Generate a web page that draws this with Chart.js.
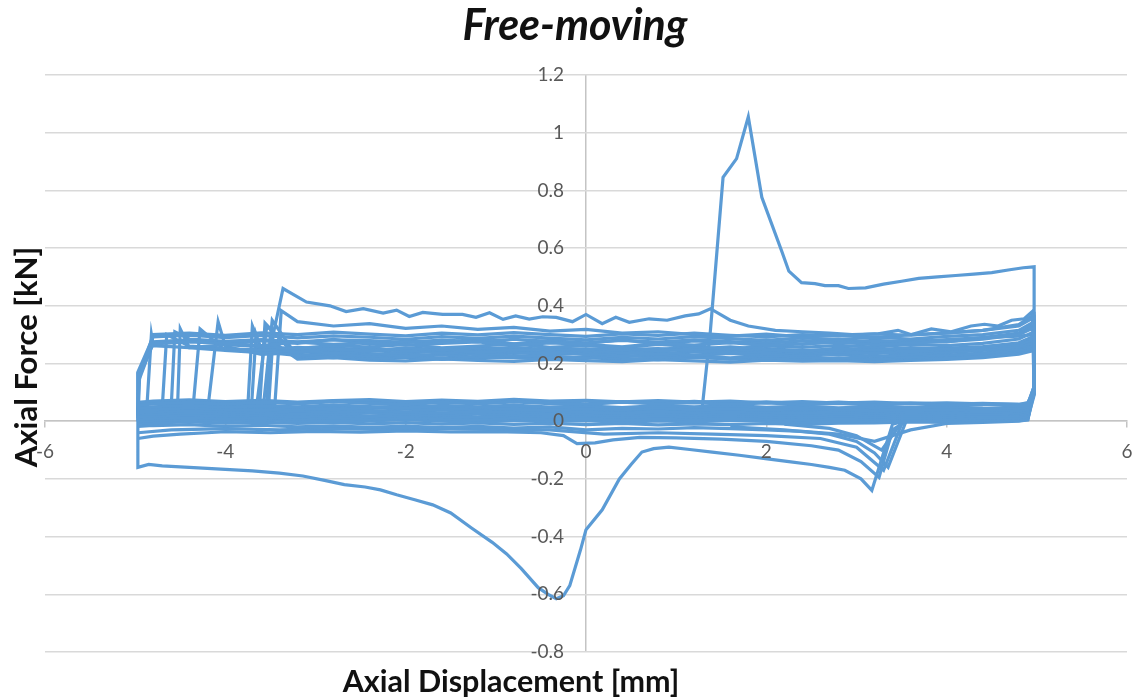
<!DOCTYPE html>
<html>
<head>
<meta charset="utf-8">
<script src="https://cdn.jsdelivr.net/npm/chart.js@4.4.1/dist/chart.umd.min.js"></script>
<style>
  html, body { margin: 0; padding: 0; background: #fff; }
  #wrap { width: 1137px; height: 699px; position: relative; }
</style>
</head>
<body>
<div id="wrap"><canvas id="graficaFriccion" width="1137" height="699"></canvas></div>
<script>
// Textos
const chartTitle = 'Free-moving';
const xTitle = 'Axial Displacement [mm]';
const yTitle = 'Axial Force [kN]';

// Ticks
const xTickValues = [-6, -4, -2, 0, 2, 4, 6];
const yTickValues = [-0.8, -0.6, -0.4, -0.2, 0, 0.2, 0.4, 0.6, 0.8, 1, 1.2];

// Estaciones de desplazamiento para las bandas de ciclos
const stations = [-4.8, -4.4, -4.0, -3.6, -3.2, -2.8, -2.4, -2.0, -1.6, -1.2, -0.8, -0.4, 0, 0.4, 0.8, 1.2, 1.6, 2.0, 2.4, 2.8, 3.2, 3.6, 4.0, 4.4, 4.8];

// Rama superior (ida) de cada ciclo, kN
const upperY = [
  [0.292,0.298,0.29,0.297,0.289,0.296,0.291,0.284,0.293,0.287,0.295,0.288,0.282,0.291,0.285,0.293,0.286,0.28,0.289,0.283,0.291,0.285,0.294,0.3,0.315],
  [0.268,0.275,0.27,0.262,0.274,0.266,0.272,0.264,0.27,0.275,0.263,0.271,0.266,0.258,0.27,0.264,0.272,0.262,0.268,0.274,0.265,0.271,0.276,0.284,0.3],
  [0.262,0.255,0.265,0.258,0.252,0.263,0.257,0.266,0.254,0.26,0.268,0.256,0.262,0.255,0.266,0.258,0.25,0.261,0.256,0.263,0.257,0.266,0.262,0.27,0.285],
  [null,0.26,0.252,0.246,0.256,0.25,0.243,0.254,0.248,0.257,0.245,0.252,0.247,0.256,0.244,0.25,0.258,0.248,0.242,0.253,0.247,0.255,0.25,0.258,0.272],
  [null,0.255,0.245,0.25,0.24,0.248,0.252,0.243,0.25,0.238,0.246,0.253,0.241,0.248,0.252,0.24,0.245,0.25,0.239,0.246,0.252,0.241,0.248,0.255,0.265],
  [null,null,0.245,0.238,0.245,0.236,0.242,0.248,0.235,0.243,0.239,0.234,0.244,0.238,0.232,0.242,0.236,0.243,0.235,0.24,0.234,0.244,0.24,0.248,0.258],
  [null,null,0.26,0.232,0.238,0.244,0.232,0.238,0.243,0.23,0.237,0.242,0.231,0.236,0.24,0.229,0.236,0.232,0.238,0.23,0.24,0.233,0.238,0.245,0.255],
  [null,null,null,0.24,0.228,0.235,0.226,0.232,0.229,0.236,0.225,0.231,0.234,0.224,0.232,0.228,0.235,0.226,0.23,0.233,0.225,0.231,0.228,0.236,0.25],
  [null,null,null,0.25,0.226,0.22,0.228,0.223,0.23,0.221,0.227,0.224,0.219,0.228,0.222,0.226,0.22,0.227,0.223,0.218,0.226,0.222,0.228,0.234,0.245],
  [null,null,null,null,0.222,0.228,0.218,0.224,0.217,0.223,0.219,0.215,0.222,0.218,0.213,0.221,0.216,0.22,0.214,0.219,0.215,0.22,0.217,0.226,0.238],
  [null,null,null,null,0.215,0.22,0.212,0.209,0.216,0.211,0.207,0.214,0.21,0.206,0.213,0.209,0.205,0.212,0.208,0.21,0.206,0.211,0.214,0.22,0.232],
  [null,null,null,null,0.345,0.33,0.338,0.322,0.33,0.318,0.325,0.312,0.318,0.305,0.31,0.3,0.295,0.302,0.292,0.298,0.29,0.3,0.305,0.315,0.33],
  [0.3,0.305,0.298,0.306,0.3,0.309,0.302,0.296,0.305,0.299,0.307,0.3,0.294,0.303,0.297,0.305,0.298,0.292,0.3,0.295,0.303,0.298,0.306,0.315,0.335],
  [null,0.285,0.277,0.283,0.275,0.282,0.279,0.273,0.281,0.276,0.284,0.277,0.272,0.28,0.274,0.282,0.276,0.27,0.279,0.273,0.28,0.275,0.283,0.29,0.295],
  [null,null,null,0.25,0.248,0.254,0.246,0.252,0.245,0.25,0.256,0.247,0.251,0.244,0.25,0.255,0.246,0.252,0.245,0.249,0.243,0.25,0.253,0.258,0.268],
  [null,null,null,0.238,0.22,0.226,0.217,0.222,0.214,0.22,0.225,0.216,0.221,0.213,0.219,0.224,0.215,0.22,0.212,0.218,0.214,0.219,0.222,0.23,0.24],
  [0.275,0.282,0.268,0.279,0.27,0.284,0.266,0.278,0.272,0.285,0.268,0.28,0.27,0.283,0.267,0.278,0.271,0.282,0.266,0.279,0.27,0.283,0.275,0.29,0.305]
];

// Rama inferior (vuelta) de cada ciclo, kN
const lowerY = [
  [0.06,0.065,0.058,0.066,0.06,0.068,0.062,0.057,0.065,0.06,0.067,0.061,0.058,0.066,0.06,0.064,0.058,0.063,0.057,0.062,0.056,0.061,0.055,0.058,0.052],
  [0.05,0.055,0.048,0.054,0.05,0.057,0.051,0.046,0.055,0.05,0.056,0.049,0.053,0.047,0.054,0.05,0.055,0.048,0.052,0.046,0.051,0.047,0.05,0.045,0.044],
  [0.04,0.046,0.041,0.037,0.045,0.04,0.047,0.042,0.038,0.046,0.041,0.037,0.044,0.04,0.046,0.039,0.043,0.038,0.044,0.04,0.036,0.042,0.038,0.041,0.037],
  [0.032,0.038,0.033,0.029,0.036,0.031,0.037,0.032,0.028,0.035,0.03,0.036,0.031,0.027,0.034,0.03,0.035,0.031,0.027,0.033,0.029,0.034,0.03,0.032,0.03],
  [0.025,0.03,0.026,0.022,0.028,0.024,0.029,0.025,0.021,0.027,0.023,0.028,0.024,0.02,0.026,0.022,0.027,0.023,0.02,0.025,0.022,0.026,0.023,0.025,0.024],
  [0.018,0.022,0.017,0.021,0.015,0.02,0.016,0.021,0.017,0.014,0.02,0.016,0.019,0.013,0.018,0.015,0.02,0.016,0.013,0.018,0.015,0.019,0.016,0.018,0.018],
  [0.01,0.014,0.009,0.013,0.008,0.012,0.007,0.012,0.009,0.005,0.011,0.007,0.01,0.004,0.009,0.006,0.011,0.008,0.005,0.01,0.008,0.012,0.009,0.011,0.012],
  [0.003,0.007,0.002,0.006,0.0,0.004,0.001,0.005,0.0,-0.003,0.003,0.0,0.002,-0.004,0.001,-0.002,0.003,0.0,-0.003,0.002,0.0,0.004,0.002,0.005,0.006],
  [-0.006,-0.002,-0.007,-0.003,-0.008,-0.004,-0.009,-0.005,-0.01,-0.006,-0.011,-0.007,-0.012,-0.008,-0.013,-0.009,-0.012,-0.008,-0.011,-0.007,-0.006,-0.002,-0.004,0.0,0.002],
  [0.07,0.074,0.068,0.072,0.066,0.071,0.075,0.068,0.073,0.069,0.076,0.07,0.072,0.067,0.071,0.066,0.07,0.064,0.068,0.063,0.066,0.061,0.064,0.06,0.058],
  [0.045,0.05,0.044,0.049,0.043,0.048,0.044,0.05,0.045,0.041,0.047,0.043,0.049,0.044,0.04,0.046,0.042,0.047,0.043,0.039,0.045,0.041,0.044,0.04,0.04],
  [-0.015,-0.012,-0.018,-0.014,-0.02,-0.016,-0.021,-0.017,-0.022,-0.018,-0.024,-0.02,-0.03,-0.025,-0.027,-0.022,-0.026,-0.03,-0.035,-0.045,-0.07,-0.03,-0.008,-0.004,0.0],
  [0.064,0.07,0.062,0.068,0.063,0.07,0.066,0.061,0.069,0.064,0.071,0.065,0.06,0.068,0.063,0.069,0.062,0.067,0.061,0.066,0.06,0.064,0.059,0.062,0.058],
  [0.035,0.041,0.034,0.039,0.033,0.04,0.035,0.031,0.039,0.034,0.04,0.033,0.037,0.032,0.038,0.034,0.039,0.033,0.036,0.031,0.036,0.032,0.035,0.03,0.032],
  [0.02,0.026,0.019,0.024,0.017,0.023,0.018,0.024,0.019,0.015,0.022,0.018,0.023,0.016,0.021,0.017,0.023,0.018,0.015,0.021,0.017,0.022,0.018,0.02,0.02],
  [0.012,0.017,0.01,0.016,0.009,0.014,0.01,0.015,0.011,0.007,0.013,0.009,0.014,0.006,0.012,0.008,0.013,0.009,0.006,0.012,0.009,0.014,0.011,0.013,0.014],
  [0.048,0.053,0.046,0.052,0.045,0.051,0.047,0.053,0.046,0.043,0.05,0.045,0.051,0.044,0.049,0.045,0.05,0.044,0.048,0.043,0.047,0.043,0.046,0.042,0.042]
];

// Extremos de cada ciclo
const jumpX     = [-4.97, -4.97, -4.87, -4.70, -4.53, -4.36, -4.19, -3.71, -3.65, -3.58, -3.54, -3.45, -4.97, -4.60, -3.75, -3.62, -4.97];
const jumpBaseY = [0.02, 0.0, 0.05, 0.045, 0.05, 0.04, 0.055, 0.05, 0.06, 0.045, 0.055, 0.06, 0.03, 0.05, 0.055, 0.05, 0.01];
const peakX     = [-4.97, -4.95, -4.82, -4.65, -4.50, -4.28, -4.08, -3.66, -3.54, -3.48, -3.50, -3.38, -4.96, -4.56, -3.70, -3.56, -4.96];
const peakY     = [0.17, 0.16, 0.30, 0.30, 0.32, 0.32, 0.345, 0.30, 0.33, 0.35, 0.28, 0.383, 0.15, 0.31, 0.33, 0.34, 0.14];
const rightTopY = [0.345, 0.325, 0.31, 0.295, 0.285, 0.275, 0.27, 0.262, 0.255, 0.25, 0.245, 0.36, 0.37, 0.3, 0.28, 0.265, 0.335];
const dropY     = [0.11, 0.12, 0.1, 0.105, 0.095, 0.11, 0.1, 0.09, 0.1, 0.105, 0.095, 0.115, 0.12, 0.1, 0.105, 0.11, 0.1];
const turnY     = [0.055, 0.05, 0.04, 0.035, 0.03, 0.025, 0.018, 0.01, 0.005, 0.065, 0.045, 0.005, 0.06, 0.035, 0.02, 0.012, 0.045];
const leftLowY  = [0.055, 0.045, 0.04, 0.03, 0.025, 0.015, 0.008, 0.0, -0.008, 0.065, 0.04, -0.018, 0.062, 0.035, 0.02, 0.012, 0.048];

// Primer ciclo (pico de arranque y valle negativo)
const firstX = [-4.97,-4.97,-4.85,-4.7,-4.5,-4.3,-4.0,-3.7,-3.4,-3.14,-2.9,-2.68,-2.45,-2.28,-2.1,-1.9,-1.7,-1.5,-1.27,-1.04,-0.88,-0.72,-0.53,-0.42,-0.33,-0.25,-0.18,-0.06,0.0,0.18,0.37,0.5,0.62,0.75,0.92,1.15,1.4,1.7,1.99,2.25,2.5,2.7,2.87,3.05,3.17,3.4,3.7,4.2,4.7,4.88,4.97,4.97,4.85,4.7,4.5,4.3,4.1,3.9,3.69,3.5,3.3,3.1,2.91,2.8,2.65,2.54,2.39,2.25,2.17,1.95,1.8,1.67,1.52,1.38,1.28];
const firstY = [0.17,-0.16,-0.15,-0.155,-0.158,-0.162,-0.167,-0.172,-0.18,-0.19,-0.205,-0.22,-0.228,-0.238,-0.255,-0.272,-0.29,-0.318,-0.37,-0.42,-0.46,-0.51,-0.577,-0.6,-0.615,-0.605,-0.57,-0.445,-0.376,-0.307,-0.2,-0.15,-0.107,-0.095,-0.09,-0.098,-0.107,-0.118,-0.13,-0.14,-0.15,-0.16,-0.17,-0.2,-0.24,-0.01,0.015,0.02,0.02,0.04,0.12,0.535,0.532,0.525,0.515,0.51,0.505,0.5,0.495,0.485,0.475,0.462,0.46,0.47,0.47,0.477,0.48,0.52,0.59,0.776,1.055,0.91,0.845,0.315,0.02];

// Segundo ciclo (rama a ~0.38 kN)
const secondX = [-3.52,-3.47,-3.36,-3.1,-2.84,-2.66,-2.47,-2.25,-2.1,-1.96,-1.81,-1.59,-1.37,-1.22,-1.07,-0.92,-0.78,-0.63,-0.48,-0.33,-0.15,0.0,0.18,0.33,0.48,0.7,0.9,1.1,1.25,1.38,1.6,1.8,2.1,2.4,2.7,2.95,3.24,3.46,3.61,3.83,4.05,4.27,4.42,4.57,4.72,4.86,4.95,4.97,4.92,4.85];
const secondY = [0.05,0.3,0.46,0.413,0.4,0.38,0.39,0.375,0.385,0.363,0.377,0.37,0.37,0.36,0.376,0.353,0.365,0.354,0.362,0.36,0.345,0.37,0.338,0.36,0.343,0.355,0.35,0.365,0.372,0.39,0.35,0.33,0.315,0.31,0.305,0.3,0.303,0.315,0.3,0.32,0.31,0.33,0.336,0.33,0.35,0.355,0.38,0.1,0.06,0.04];

// Ramas por debajo de la banda inferior
const below1X = [-4.97,-4.8,-4.5,-4.2,-4.0,-3.5,-3.0,-2.5,-2.0,-1.5,-1.0,-0.5,-0.25,-0.1,0.1,0.3,0.6,1.0,1.5,2.0,2.5,2.8,3.05,3.25,3.4,3.6];
const below1Y = [-0.06,-0.052,-0.045,-0.04,-0.036,-0.04,-0.035,-0.038,-0.034,-0.037,-0.036,-0.04,-0.05,-0.078,-0.075,-0.065,-0.056,-0.058,-0.062,-0.07,-0.085,-0.1,-0.14,-0.195,-0.03,0.01];
const below2X = [-4.97,-4.6,-4.0,-3.4,-2.8,-2.2,-1.6,-1.0,-0.4,0.2,0.8,1.4,2.0,2.6,3.0,3.3,3.5];
const below2Y = [-0.04,-0.03,-0.026,-0.03,-0.025,-0.029,-0.024,-0.028,-0.03,-0.045,-0.04,-0.045,-0.05,-0.06,-0.09,-0.17,-0.01];
const fan1X = [1.6, 2.2, 2.7, 3.0, 3.2, 3.35, 3.55];
const fan1Y = [-0.02, -0.03, -0.045, -0.07, -0.11, -0.16, 0.0];
const fan2X = [2.2, 2.7, 3.0, 3.28, 3.51];
const fan2Y = [-0.01, -0.025, -0.05, -0.1, 0.0];

const lineColor = '#5B9BD5';
const axisGray = '#C4C4C4';
const tickGray = '#595959';

function toPoints(xs, ys) {
  return xs.map((x, i) => ({ x: x, y: ys[i] }));
}

function loopPoints(k) {
  const pts = [];
  pts.push({ x: -4.97, y: leftLowY[k] });
  pts.push({ x: jumpX[k], y: jumpBaseY[k] });
  pts.push({ x: peakX[k], y: peakY[k] });
  stations.forEach((sx, i) => {
    const v = upperY[k][i];
    if (v !== null && sx > peakX[k]) pts.push({ x: sx, y: v });
  });
  pts.push({ x: 4.97, y: rightTopY[k] });
  pts.push({ x: 4.97, y: dropY[k] });
  pts.push({ x: 4.9, y: turnY[k] });
  for (let i = stations.length - 1; i >= 0; i--) {
    pts.push({ x: stations[i], y: lowerY[k][i] });
  }
  pts.push({ x: -4.97, y: leftLowY[k] });
  return pts;
}

function serie(data) {
  return {
    data: data,
    showLine: true,
    borderColor: lineColor,
    backgroundColor: lineColor,
    borderWidth: 3.2,
    pointRadius: 0,
    tension: 0,
    fill: false
  };
}

const datasets = [];
upperY.forEach((_, k) => datasets.push(serie(loopPoints(k))));
datasets.push(serie(toPoints(firstX, firstY)));
datasets.push(serie(toPoints(secondX, secondY)));
datasets.push(serie(toPoints(below1X, below1Y)));
datasets.push(serie(toPoints(below2X, below2Y)));
datasets.push(serie(toPoints(fan1X, fan1Y)));
datasets.push(serie(toPoints(fan2X, fan2Y)));

const fmtY = (v) => String(Math.round(v * 10) / 10);

// Etiquetas del eje Y junto al eje vertical (x = 0), encima de las curvas
const etiquetasY = {
  id: 'etiquetasY',
  afterDatasetsDraw(chart) {
    const ctx = chart.ctx;
    const sy = chart.scales.y;
    const x0 = chart.scales.x.getPixelForValue(0) - 22;
    ctx.save();
    ctx.font = '19px Lato';
    ctx.fillStyle = tickGray;
    ctx.textAlign = 'right';
    ctx.textBaseline = 'middle';
    sy.ticks.forEach((t) => {
      ctx.fillText(fmtY(t.value), x0, sy.getPixelForValue(t.value));
    });
    ctx.restore();
  }
};

// Titulos del grafico y de los ejes
const titulos = {
  id: 'titulos',
  afterDraw(chart) {
    const ctx = chart.ctx;
    ctx.save();
    ctx.fillStyle = '#111';
    ctx.textAlign = 'center';
    ctx.textBaseline = 'alphabetic';
    ctx.font = 'italic bold 43px Lato';
    ctx.fillText(chartTitle, 575, 40);
    ctx.font = 'bold 30.5px Lato';
    ctx.fillText(xTitle, 511, 692);
    ctx.font = 'bold 31px Lato';
    ctx.translate(37, 357);
    ctx.rotate(-Math.PI / 2);
    ctx.fillText(yTitle, 0, 0);
    ctx.restore();
  }
};

Chart.defaults.font.family = 'Lato';

const canvas = document.getElementById('graficaFriccion');
new Chart(canvas.getContext('2d'), {
  type: 'scatter',
  data: { datasets: datasets },
  options: {
    responsive: false,
    animation: false,
    layout: { padding: { left: 45, right: 10, top: 75, bottom: 47 } },
    plugins: {
      legend: { display: false },
      tooltip: { enabled: false },
      title: { display: false }
    },
    scales: {
      x: {
        type: 'linear',
        min: -6,
        max: 6,
        position: { y: 0 },
        afterBuildTicks: (s) => { s.ticks = xTickValues.map(v => ({ value: v })); },
        afterFit: (s) => { s.height = 0; s.paddingLeft = 0; s.paddingRight = 0; },
        grid: {
          drawOnChartArea: true,
          drawTicks: true,
          tickLength: 6,
          lineWidth: 1.5,
          tickColor: axisGray,
          color: (c) => (c.tick && c.tick.value === 0 ? axisGray : 'rgba(0,0,0,0)')
        },
        border: { display: true, color: axisGray, width: 1.5 },
        ticks: { z: 1, padding: 13, color: tickGray, font: { size: 19 }, maxRotation: 0, autoSkip: false, callback: (v) => String(v) }
      },
      y: {
        type: 'linear',
        min: -0.8,
        max: 1.2,
        position: 'left',
        afterBuildTicks: (s) => { s.ticks = yTickValues.map(v => ({ value: v })); },
        afterFit: (s) => { s.width = 0; s.paddingTop = 0; s.paddingBottom = 0; },
        grid: { color: '#D9D9D9', lineWidth: 1.5, drawTicks: false },
        border: { display: false },
        ticks: { display: false }
      }
    }
  },
  plugins: [etiquetasY, titulos]
});
</script>
</body>
</html>
